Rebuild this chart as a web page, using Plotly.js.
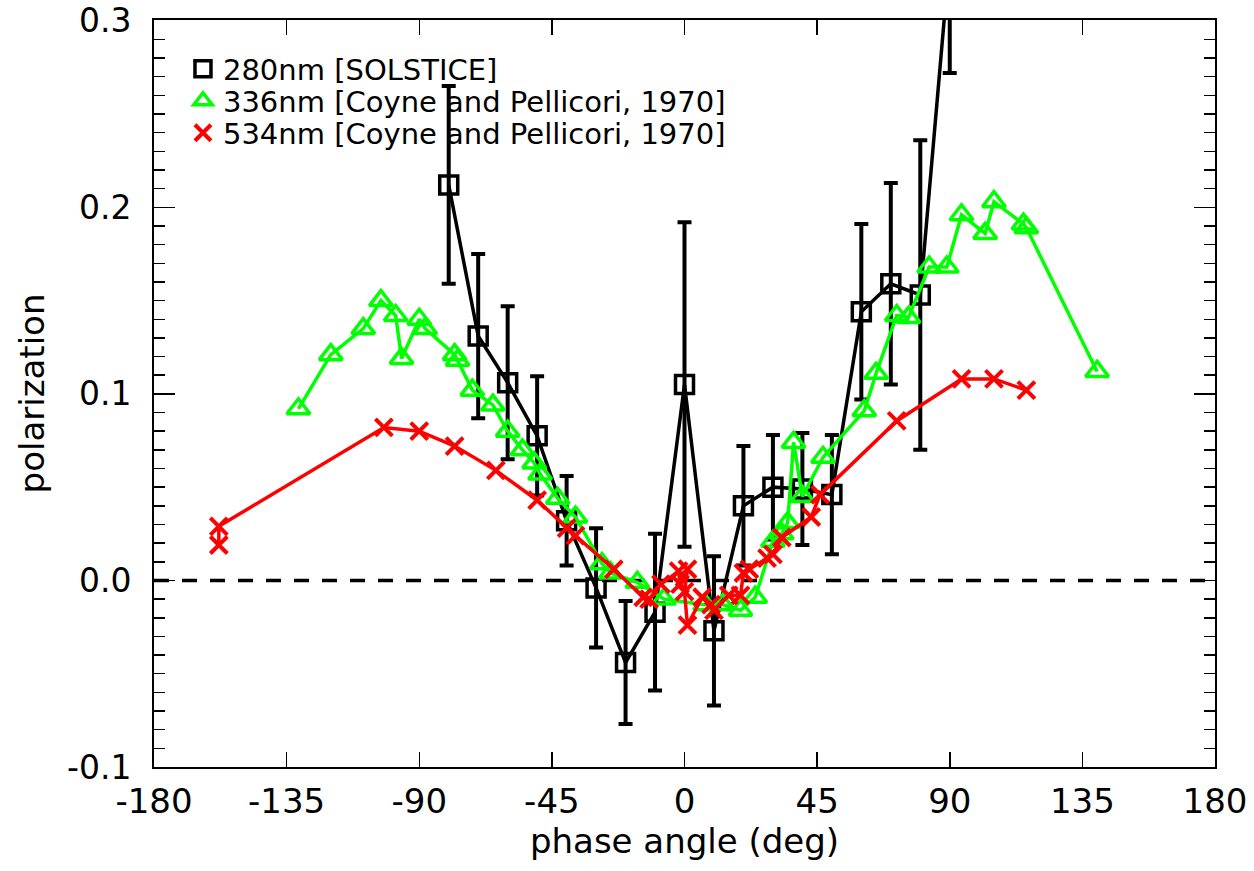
<!DOCTYPE html>
<html>
<head>
<meta charset="utf-8">
<script src="https://cdn.plot.ly/plotly-3.0.1.min.js"></script>
<style>html,body{margin:0;padding:0;background:#fff;}#chart{width:1254px;height:871px;}</style>
</head>
<body>
<div id="chart"></div>
<script>
// 280nm [SOLSTICE]
const solsticeX = [-80,-70,-60,-50,-40,-30,-20,-10,0,10,20,30,40,50,60,70,80,90];
const solsticeY = [0.212,0.131,0.106,0.0775,0.032,-0.004,-0.044,-0.017,0.105,-0.027,0.040,0.050,0.049,0.046,0.144,0.159,0.153,0.335];
const solsticeErr = [0.053,0.044,0.041,0.032,0.024,0.032,0.033,0.042,0.087,0.040,0.032,0.028,0.030,0.032,0.047,0.054,0.083,0.063];

// 336nm [Coyne and Pellicori, 1970]
const cp336X = [-131,-120,-109,-103,-98,-96,-90,-88,-78,-77,-72,-65,-60,-55,-51,-49,-43,-37,-28,-25,-16,-7,7,13,19,24,30,33,35,37,40,47,61,65,72,76,83,89,94,102,105,115,116,140];
const cp336Y = [0.092,0.121,0.135,0.150,0.142,0.119,0.140,0.135,0.121,0.118,0.102,0.094,0.080,0.070,0.063,0.057,0.044,0.034,0.009,0.004,-0.001,-0.010,-0.013,-0.013,-0.016,-0.009,0.021,0.025,0.031,0.074,0.045,0.066,0.091,0.111,0.142,0.141,0.168,0.168,0.196,0.186,0.203,0.191,0.189,0.112];

// 534nm [Coyne and Pellicori, 1970]
const cp534X = [-158,-158,-102,-90,-78,-64,-50,-40,-37,-24,-14,-12,-8,-2,-1.5,1,0,1,6,9,10,15,19,20,22,28,30,33,43,46,72,94,105,116];
const cp534Y = [0.019,0.029,0.082,0.080,0.072,0.059,0.043,0.028,0.024,0.006,-0.009,-0.010,-0.002,0.005,-0.002,0.006,-0.006,-0.024,-0.009,-0.013,-0.016,-0.008,-0.008,0.004,0.006,0.012,0.014,0.023,0.034,0.046,0.0855,0.108,0.108,0.102];

const seriesNames = ['280nm [SOLSTICE]', '336nm [Coyne and Pellicori, 1970]', '534nm [Coyne and Pellicori, 1970]'];

const xTickVals = [-180,-135,-90,-45,0,45,90,135,180];
const xTickText = ['-180','-135','-90','-45','0','45','90','135','180'];
const yTickVals = [-0.1,0.0,0.1,0.2,0.3];
const yTickText = ['-0.1','0.0','0.1','0.2','0.3'];

const FONT = 'DejaVu Sans, Verdana, sans-serif';

const blackMarker = {symbol: 'square-open', size: 18, color: '#000000', line: {width: 3.5, color: '#000000'}};
const greenMarker = {symbol: 'triangle-up-open', size: 20, color: '#00ff00', line: {width: 3.5, color: '#00ff00'}};
const redMarker = {symbol: 'x-thin-open', size: 17, color: '#ff0000', line: {width: 4, color: '#ff0000'}};

const traces = [
  {
    x: solsticeX, y: solsticeY, name: seriesNames[0], type: 'scatter', mode: 'lines+markers', showlegend: false,
    line: {color: '#000000', width: 3.5}, marker: blackMarker,
    error_y: {type: 'data', array: solsticeErr, visible: true, color: '#000000', thickness: 4, width: 7}
  },
  {
    x: cp336X, y: cp336Y, name: seriesNames[1], type: 'scatter', mode: 'lines+markers', showlegend: false,
    line: {color: '#00ff00', width: 3.5}, marker: greenMarker
  },
  {
    x: cp534X, y: cp534Y, name: seriesNames[2], type: 'scatter', mode: 'lines+markers', showlegend: false,
    line: {color: '#ff0000', width: 3.5}, marker: redMarker
  },
  // legend-only entries (marker symbol only, like the reference legend)
  {x: [null], y: [null], name: seriesNames[0], type: 'scatter', mode: 'markers', marker: blackMarker, legend: 'legend', showlegend: true},
  {x: [null], y: [null], name: seriesNames[1], type: 'scatter', mode: 'markers', marker: greenMarker, legend: 'legend2', showlegend: true},
  {x: [null], y: [null], name: seriesNames[2], type: 'scatter', mode: 'markers', marker: redMarker, legend: 'legend3', showlegend: true}
];

function legendAt(py) {
  return {
    x: 0.0273, y: py, xanchor: 'left', yanchor: 'middle',
    bgcolor: 'rgba(0,0,0,0)', borderwidth: 0,
    font: {family: FONT, size: 29, color: '#000000'},
    itemwidth: 30, tracegroupgap: 0
  };
}

const layout = {
  width: 1254, height: 871,
  margin: {l: 154, r: 39, t: 20, b: 104, pad: 0},
  paper_bgcolor: '#ffffff', plot_bgcolor: '#ffffff',
  font: {family: FONT, color: '#000000', size: 30},
  showlegend: true,
  legend: legendAt(0.9345),
  legend2: legendAt(0.8917),
  legend3: legendAt(0.8489),
  xaxis: {
    range: [-180, 180], autorange: false,
    tickmode: 'array', tickvals: xTickVals, ticktext: xTickText,
    ticks: 'inside', ticklen: 15, tickwidth: 1.5, tickcolor: '#000',
    showline: true, linecolor: '#000', linewidth: 2, mirror: 'ticks',
    showgrid: false, zeroline: false,
    ticklabeloverflow: 'allow', ticklabelstandoff: 3,
    tickfont: {family: FONT, size: 34, color: '#000'},
    title: {text: 'phase angle (deg)', font: {family: FONT, size: 34, color: '#000'}, standoff: 2}
  },
  yaxis: {
    range: [-0.1, 0.3004], autorange: false,
    tickmode: 'array', tickvals: yTickVals, ticktext: yTickText,
    ticks: 'inside', ticklen: 21, tickwidth: 1.5, tickcolor: '#000',
    minor: {dtick: 0.01, ticks: 'inside', ticklen: 11, tickwidth: 1.5, tickcolor: '#000', showgrid: false},
    showline: true, linecolor: '#000', linewidth: 2, mirror: 'ticks',
    showgrid: false, zeroline: false,
    ticklabeloverflow: 'allow', ticklabelstandoff: 14,
    tickfont: {family: FONT, size: 33, color: '#000'},
    title: {text: 'polarization', font: {family: FONT, size: 34, color: '#000'}, standoff: 12}
  },
  shapes: [
    {type: 'line', xref: 'paper', yref: 'y', x0: 0, x1: 1, y0: 0, y1: 0,
     line: {color: '#000000', width: 3.5, dash: '15px,13px'}, layer: 'below'}
  ]
};

Plotly.newPlot('chart', traces, layout, {displayModeBar: false, staticPlot: true});
</script>
</body>
</html>
